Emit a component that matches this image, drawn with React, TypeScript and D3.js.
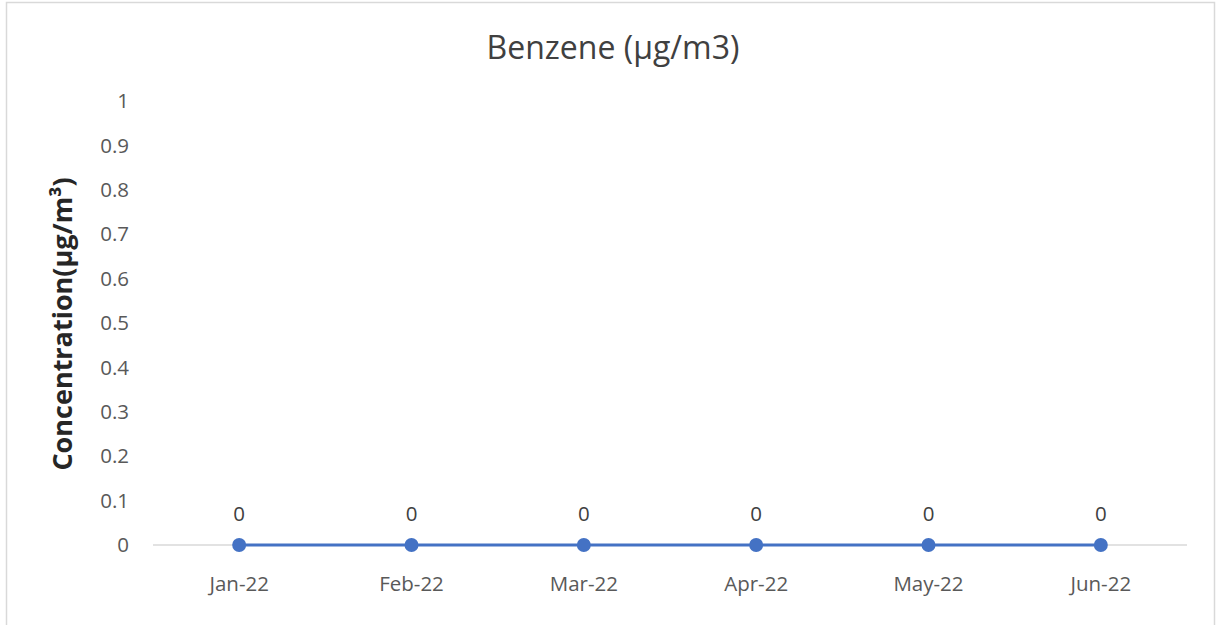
import React, { useEffect, useRef } from 'react';
import * as d3 from 'd3';

const months = ['Jan-22', 'Feb-22', 'Mar-22', 'Apr-22', 'May-22', 'Jun-22'];
const benzene = [0, 0, 0, 0, 0, 0];
const yTicks = [0, 0.1, 0.2, 0.3, 0.4, 0.5, 0.6, 0.7, 0.8, 0.9, 1];

const width = 1218;
const height = 625;
const font = '"Open Sans", "Noto Sans", sans-serif';

function App() {
  const ref = useRef<SVGSVGElement>(null);

  useEffect(() => {
    const svg = d3.select(ref.current);
    svg.selectAll('*').remove();

    // chart frame
    svg.append('rect')
      .attr('x', 6.5).attr('y', 2.5)
      .attr('width', 1208).attr('height', 640)
      .attr('fill', '#fff')
      .attr('stroke', '#d9d9d9')
      .attr('stroke-width', 1.5);

    const x = d3.scaleBand<string>()
      .domain(months)
      .range([153, 1187]);

    const y = d3.scaleLinear()
      .domain([0, 1])
      .range([545, 101]);

    const cx = (d: string) => (x(d) || 0) + x.bandwidth() / 2;

    svg.append('text')
      .attr('x', 613).attr('y', 59)
      .attr('text-anchor', 'middle')
      .attr('font-family', font)
      .attr('font-size', 32)
      .attr('fill', '#404040')
      .text('Benzene (µg/m3)');

    // y tick labels
    svg.append('g')
      .selectAll('text')
      .data(yTicks)
      .enter()
      .append('text')
      .attr('x', 129)
      .attr('y', d => y(d))
      .attr('dy', '0.35em')
      .attr('text-anchor', 'end')
      .attr('font-family', font)
      .attr('font-size', 20.5)
      .attr('fill', '#595959')
      .text(d => d3.format('~g')(d));

    svg.append('text')
      .attr('transform', 'translate(72,' + 324 + ') rotate(-90)')
      .attr('text-anchor', 'middle')
      .attr('font-family', font)
      .attr('font-size', 27)
      .attr('font-weight', 'bold')
      .attr('fill', '#262626')
      .text('Concentration(µg/m³)');

    // x axis line
    svg.append('line')
      .attr('x1', 153).attr('x2', 1187)
      .attr('y1', y(0)).attr('y2', y(0))
      .attr('stroke', '#d9d9d9')
      .attr('stroke-width', 1.5);

    svg.append('g')
      .selectAll('text')
      .data(months)
      .enter()
      .append('text')
      .attr('x', d => cx(d))
      .attr('y', 584)
      .attr('dy', '0.35em')
      .attr('text-anchor', 'middle')
      .attr('font-family', font)
      .attr('font-size', 20.5)
      .attr('fill', '#595959')
      .text(d => d);

    const pts = months.map((m, i) => ({ m, v: benzene[i] }));

    const line = d3.line<{ m: string; v: number }>()
      .x(d => cx(d.m))
      .y(d => y(d.v));

    svg.append('path')
      .datum(pts)
      .attr('d', line)
      .attr('fill', 'none')
      .attr('stroke', '#4472c4')
      .attr('stroke-width', 3);

    svg.append('g')
      .selectAll('circle')
      .data(pts)
      .enter()
      .append('circle')
      .attr('cx', d => cx(d.m))
      .attr('cy', d => y(d.v))
      .attr('r', 7)
      .attr('fill', '#4472c4');

    svg.append('g')
      .selectAll('text')
      .data(pts)
      .enter()
      .append('text')
      .attr('x', d => cx(d.m))
      .attr('y', d => y(d.v) - 31)
      .attr('dy', '0.35em')
      .attr('text-anchor', 'middle')
      .attr('font-family', font)
      .attr('font-size', 20.5)
      .attr('fill', '#404040')
      .text(d => d.v);
  }, []);

  return (
    <svg ref={ref} width={width} height={height}
      style={{ position: 'absolute', left: 0, top: 0, background: '#fff' }} />
  );
}

export default App;
